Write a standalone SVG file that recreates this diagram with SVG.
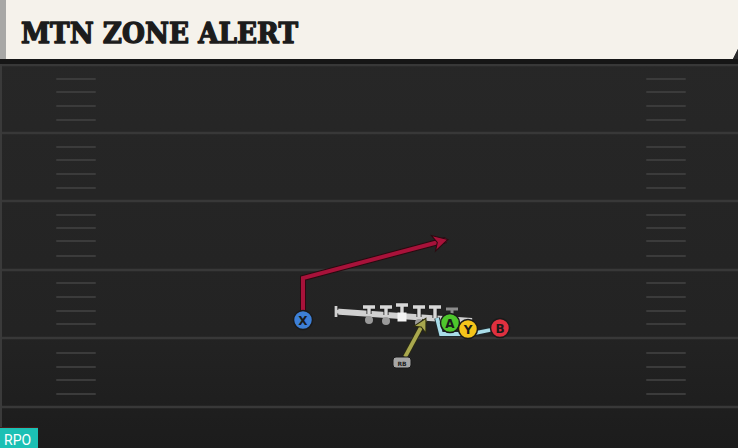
<svg xmlns="http://www.w3.org/2000/svg" width="738" height="448" viewBox="0 0 738 448">
<defs>
<linearGradient id="fieldGrad" x1="0" y1="0" x2="0" y2="1">
<stop offset="0" stop-color="#272727"/>
<stop offset="0.7" stop-color="#232323"/>
<stop offset="1" stop-color="#1c1c1c"/>
</linearGradient>
<marker id="arrRed" markerUnits="userSpaceOnUse" viewBox="-2 -10 20 20" refX="13" refY="0" markerWidth="20" markerHeight="20" orient="auto">
<path d="M0,-8 L15,0 L0,8 L4,0 Z" fill="#a8123a" stroke="#2a0a10" stroke-width="1"/>
</marker>
<marker id="arrOlive" markerUnits="userSpaceOnUse" viewBox="-2 -9 18 18" refX="11" refY="0" markerWidth="18" markerHeight="18" orient="auto">
<path d="M0,-7 L13,0 L0,7 L3,0 Z" fill="#a9a84e" stroke="#2a2a10" stroke-width="1"/>
</marker>
</defs>
<style>
.yard{stroke:#383838;stroke-width:2.5}
.hash{stroke:#3b3b3b;stroke-width:2;stroke-linecap:round}
.route{fill:none;stroke-linejoin:miter;stroke-linecap:butt}
.pl{stroke:#1a1a1a;stroke-width:1.5}
.lbl{font-family:"DejaVu Sans",sans-serif;font-weight:bold;font-size:12px;fill:#1a1a1a;text-anchor:middle}
.ol{stroke:#d0d0d0;fill:none;stroke-linecap:butt}
</style>
<rect x="0" y="0" width="738" height="448" fill="#1e1e1e"/>
<rect x="0" y="59" width="738" height="389" fill="url(#fieldGrad)"/>
<rect x="0" y="59" width="2" height="389" fill="#3a3a3a"/>
<g id="field">
<line class="yard" x1="2" y1="65" x2="738" y2="65"/>
<line class="yard" x1="2" y1="133" x2="738" y2="133"/>
<line class="yard" x1="2" y1="201" x2="738" y2="201"/>
<line class="yard" x1="2" y1="270" x2="738" y2="270"/>
<line class="yard" x1="2" y1="338" x2="738" y2="338"/>
<line class="yard" x1="2" y1="407" x2="738" y2="407"/>
<g id="hashLeft">
<line class="hash" x1="57" y1="79" x2="95" y2="79"/><line class="hash" x1="57" y1="92" x2="95" y2="92"/><line class="hash" x1="57" y1="106" x2="95" y2="106"/><line class="hash" x1="57" y1="120" x2="95" y2="120"/>
<line class="hash" x1="57" y1="147" x2="95" y2="147"/><line class="hash" x1="57" y1="160" x2="95" y2="160"/><line class="hash" x1="57" y1="174" x2="95" y2="174"/><line class="hash" x1="57" y1="188" x2="95" y2="188"/>
<line class="hash" x1="57" y1="215" x2="95" y2="215"/><line class="hash" x1="57" y1="228" x2="95" y2="228"/><line class="hash" x1="57" y1="241" x2="95" y2="241"/><line class="hash" x1="57" y1="256" x2="95" y2="256"/>
<line class="hash" x1="57" y1="283" x2="95" y2="283"/><line class="hash" x1="57" y1="297" x2="95" y2="297"/><line class="hash" x1="57" y1="311" x2="95" y2="311"/><line class="hash" x1="57" y1="324" x2="95" y2="324"/>
<line class="hash" x1="57" y1="353" x2="95" y2="353"/><line class="hash" x1="57" y1="367" x2="95" y2="367"/><line class="hash" x1="57" y1="380" x2="95" y2="380"/><line class="hash" x1="57" y1="394" x2="95" y2="394"/>
</g>
<g id="hashRight">
<line class="hash" x1="647" y1="79" x2="685" y2="79"/><line class="hash" x1="647" y1="92" x2="685" y2="92"/><line class="hash" x1="647" y1="106" x2="685" y2="106"/><line class="hash" x1="647" y1="120" x2="685" y2="120"/>
<line class="hash" x1="647" y1="147" x2="685" y2="147"/><line class="hash" x1="647" y1="160" x2="685" y2="160"/><line class="hash" x1="647" y1="174" x2="685" y2="174"/><line class="hash" x1="647" y1="188" x2="685" y2="188"/>
<line class="hash" x1="647" y1="215" x2="685" y2="215"/><line class="hash" x1="647" y1="228" x2="685" y2="228"/><line class="hash" x1="647" y1="241" x2="685" y2="241"/><line class="hash" x1="647" y1="256" x2="685" y2="256"/>
<line class="hash" x1="647" y1="283" x2="685" y2="283"/><line class="hash" x1="647" y1="297" x2="685" y2="297"/><line class="hash" x1="647" y1="311" x2="685" y2="311"/><line class="hash" x1="647" y1="324" x2="685" y2="324"/>
<line class="hash" x1="647" y1="353" x2="685" y2="353"/><line class="hash" x1="647" y1="367" x2="685" y2="367"/><line class="hash" x1="647" y1="380" x2="685" y2="380"/><line class="hash" x1="647" y1="394" x2="685" y2="394"/>
</g>
</g>
<g id="header">
<rect x="0" y="59" width="738" height="5" fill="#161616"/>
<rect x="0" y="0" width="6" height="59" fill="#a8a8a6"/>
<polygon points="6,0 738,0 738,49 733,59 6,59" fill="#f5f2eb"/>
<polygon points="738,49 738,59 733,59" fill="#2a2a2a"/>
<text x="21" y="43" font-family="'DejaVu Serif',serif" font-weight="bold" font-size="28" fill="#1c1c1c" stroke="#1c1c1c" stroke-width="1.4" stroke-linejoin="round" textLength="277" lengthAdjust="spacingAndGlyphs">MTN ZONE ALERT</text>
</g>
<g id="oline">
<path d="M336,311.5 L472,321" class="ol" stroke="#1a1a1a" stroke-width="6"/>
<line x1="336" y1="306" x2="336" y2="317" stroke="#1a1a1a" stroke-width="4.5"/>
<path d="M336,311.5 L472,321" class="ol" stroke-width="3.5"/>
<line x1="336" y1="306" x2="336" y2="317" stroke="#d0d0d0" stroke-width="2.8"/>
<g stroke="#1a1a1a" stroke-width="5" fill="none">
<path d="M363,307 H375 M369,307 V314"/>
<path d="M380,307 H392 M386,307 V315"/>
<path d="M396,305 H408 M402,305 V316"/>
<path d="M413,307 H425 M419,307 V317"/>
<path d="M429,307 H441 M435,307 V318"/>
</g>
<g stroke="#d8d8d8" stroke-width="3.4" fill="none">
<path d="M363,307 H375 M369,307 V314"/>
<path d="M380,307 H392 M386,307 V315"/>
<path d="M396,305 H408 M402,305 V316"/>
<path d="M413,307 H425 M419,307 V317"/>
<path d="M429,307 H441 M435,307 V318"/>
</g>
<path d="M446,309 H458 M452,309 V318" stroke="#8c8c8c" stroke-width="3" fill="none"/>
<circle cx="369" cy="320" r="4" fill="#9a9a9a"/>
<circle cx="386" cy="321" r="4" fill="#9a9a9a"/>
<rect x="397.5" y="312.5" width="9" height="9" fill="#f4f4f4"/>
<circle cx="419" cy="323" r="4" fill="#9a9a9a"/>
</g>
<g id="connectors">
<polyline class="route" points="303,311 303,278 446,240" stroke="#2a0a10" stroke-width="6"/>
<polyline class="route" points="303,311 303,278 446,240" stroke="#a8123a" stroke-width="4" marker-end="url(#arrRed)"/>
<polyline class="route" points="437,318 441,334 470,334 495,329" stroke="#1e2a2e" stroke-width="5.5"/>
<polyline class="route" points="437,318 441,334 470,334 495,329" stroke="#a9dde9" stroke-width="3.8"/>
<line x1="405" y1="357" x2="425" y2="320" stroke="#2a2a10" stroke-width="5.5"/>
<line x1="405" y1="357" x2="425" y2="320" stroke="#a9a84e" stroke-width="3.8" marker-end="url(#arrOlive)"/>
</g>
<g id="X">
<circle cx="303" cy="320" r="9.5" fill="#3d7fd6" class="pl"/>
<text x="303" y="324.5" class="lbl">X</text>
</g>
<g id="A">
<circle cx="450" cy="323" r="9.5" fill="#4ec62c" class="pl"/>
<text x="450" y="327.5" class="lbl">A</text>
</g>
<g id="Y">
<circle cx="468" cy="329" r="9.5" fill="#f4c41a" class="pl"/>
<text x="468" y="333.5" class="lbl">Y</text>
</g>
<g id="B">
<circle cx="500" cy="328" r="9.5" fill="#e0303f" class="pl"/>
<text x="500" y="332.5" class="lbl">B</text>
</g>
<g id="RB">
<rect x="393" y="357" width="18" height="11" rx="3" fill="#a6a6a6" stroke="#1a1a1a" stroke-width="1"/>
<text x="402" y="365.5" font-family="'DejaVu Sans',sans-serif" font-weight="bold" font-size="6" fill="#222" text-anchor="middle">RB</text>
</g>
<g id="rpo">
<rect x="0" y="427" width="38" height="1" fill="#4a1a1a"/>
<rect x="0" y="428" width="38" height="20" fill="#1cc0b4"/>
<text x="4" y="444.5" font-family="Roboto,sans-serif" font-size="14" fill="#ffffff">RPO</text>
</g>
</svg>
